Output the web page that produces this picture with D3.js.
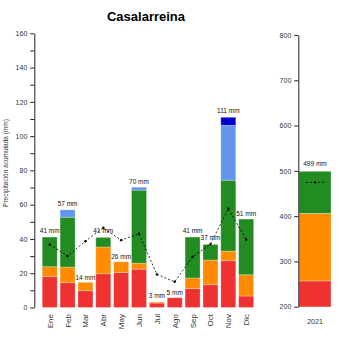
<!DOCTYPE html>
<html lang="es">
<head>
  <meta charset="UTF-8">
  <title>Casalarreina</title>
  <style>
    * { padding: 0; margin: 0; }
    body { background: #fff; }
    text { font-family: "Liberation Sans", Arial, sans-serif; }
    .narrow { font-family: "Liberation Sans Narrow", "Arial Narrow", "Liberation Sans", sans-serif; font-stretch: condensed; }
  </style>
</head>
<body>
  <script src="https://d3js.org/d3.v7.min.js"></script>
  <script>
    const width = 350;
    const height = 350;

    const months = ['Ene', 'Feb', 'Mar', 'Abr', 'May', 'Jun', 'Jul', 'Ago', 'Sep', 'Oct', 'Nov', 'Dic'];
    // stacked monthly values (mm), bottom to top
    const red = [18.0, 14.5, 9.8, 19.7, 20.5, 22.4, 2.6, 5.7, 11.0, 13.3, 27.3, 6.7];
    const orange = [5.8, 9.1, 4.9, 15.6, 6.2, 3.5, 0.6, 0, 6.2, 14.4, 5.6, 12.4];
    const green = [17.3, 29.1, 0, 5.6, 0, 42.6, 0, 0, 23.9, 9.1, 41.4, 32.5];
    const lightBlue = [0, 4.3, 0, 0, 0, 1.7, 0, 0, 0, 0, 32.0, 0];
    const darkBlue = [0, 0, 0, 0, 0, 0, 0, 0, 0, 0, 4.7, 0];
    const totals = [41, 57, 14, 41, 26, 70, 3, 5, 41, 37, 111, 51];
    const mean = [36.8, 30.0, 38.7, 46.5, 39.3, 43.0, 19.3, 15.0, 29.6, 37.0, 57.6, 39.7];

    const year = ['2021'];
    const yearRed = [257];
    const yearOrange = [149];
    const yearGreen = [93];
    const yearTotal = [499];
    const yearMean = [474.6];

    const leftTicks = d3.range(0, 161, 10);
    const rightTicks = [200, 300, 400, 500, 600, 700, 800];

    const series = [red, orange, green, lightBlue, darkBlue];
    const colors = ['#ee3131', '#ff8c00', '#228b22', '#6495ed', '#0000cd'];

    const svg = d3.select('body')
      .append('svg')
      .attr('width', width)
      .attr('height', height);

    svg.append('text')
      .attr('x', 146)
      .attr('y', 21)
      .attr('text-anchor', 'middle')
      .attr('font-size', 13)
      .attr('font-weight', 'bold')
      .text('Casalarreina');

    // monthly chart
    const x = d3.scaleBand()
      .domain(months)
      .range([40.8, 255.1])
      .paddingInner(0.16)
      .paddingOuter(0.08);
    const y = d3.scaleLinear().domain([0, 160]).range([307.5, 33.3]);

    const stackData = months.map((m, i) => {
      const row = { month: m };
      series.forEach((s, k) => { row['s' + k] = s[i]; });
      return row;
    });
    const stack = d3.stack().keys(series.map((s, k) => 's' + k))(stackData);

    svg.append('g')
      .selectAll('g')
      .data(stack)
      .join('g')
      .attr('fill', (d, k) => colors[k])
      .selectAll('rect')
      .data(d => d.filter(v => v[1] - v[0] > 0))
      .join('rect')
      .attr('x', d => x(d.data.month))
      .attr('y', d => y(d[1]))
      .attr('width', x.bandwidth())
      .attr('height', d => y(d[0]) - y(d[1]))
      .attr('stroke', 'rgba(255,255,255,0.35)')
      .attr('stroke-width', 0.8);

    svg.append('g')
      .selectAll('text')
      .data(months)
      .join('text')
      .attr('x', d => x(d) + x.bandwidth() / 2)
      .attr('y', (d, i) => y(totals[i]) - 4)
      .attr('text-anchor', 'middle')
      .attr('font-size', 6.5)
      .attr('fill', '#111')
      .text((d, i) => totals[i] + ' mm');

    const line = d3.line()
      .x((d, i) => x(months[i]) + x.bandwidth() / 2)
      .y(d => y(d));
    svg.append('path')
      .attr('d', line(mean))
      .attr('fill', 'none')
      .attr('stroke', '#000')
      .attr('stroke-width', 0.8)
      .attr('stroke-dasharray', '2,2');
    svg.append('g')
      .selectAll('circle')
      .data(mean)
      .join('circle')
      .attr('cx', (d, i) => x(months[i]) + x.bandwidth() / 2)
      .attr('cy', d => y(d))
      .attr('r', 1.2)
      .attr('fill', '#000');

    const yAxis = svg.append('g')
      .attr('transform', 'translate(34.3,0)')
      .call(d3.axisLeft(y)
        .tickValues(leftTicks)
        .tickSize(4)
        .tickSizeOuter(0)
        .tickFormat(d => d % 20 === 0 ? d : ''));
    yAxis.selectAll('text').attr('font-size', 7).attr('fill', '#333')
      .attr('font-family', null).attr('class', 'narrow');
    yAxis.selectAll('line, path').attr('stroke', '#222');

    svg.append('g')
      .selectAll('text')
      .data(months)
      .join('text')
      .attr('transform', d => `translate(${x(d) + x.bandwidth() / 2 + 3},314) rotate(-90)`)
      .attr('text-anchor', 'end')
      .attr('font-size', 8)
      .attr('fill', '#333')
      .text(d => d);

    svg.append('text')
      .attr('class', 'narrow')
      .attr('transform', 'translate(8,163) rotate(-90)')
      .attr('text-anchor', 'middle')
      .attr('font-size', 6.5)
      .attr('fill', '#333')
      .text('Precipitación acumulada (mm)');

    // annual chart
    const x2 = d3.scaleBand().domain(year).range([299, 331]);
    const y2 = d3.scaleLinear().domain([200, 800]).range([306.7, 35]);

    svg.append('clipPath')
      .attr('id', 'clip2')
      .append('rect')
      .attr('x', 298).attr('y', 35).attr('width', 40).attr('height', 271.7);

    const yearStack = d3.stack().keys(['r', 'o', 'g'])(
      year.map((yy, i) => ({ year: yy, r: yearRed[i], o: yearOrange[i], g: yearGreen[i] })));

    svg.append('g')
      .attr('clip-path', 'url(#clip2)')
      .selectAll('g')
      .data(yearStack)
      .join('g')
      .attr('fill', (d, k) => colors[k])
      .selectAll('rect')
      .data(d => d)
      .join('rect')
      .attr('x', d => x2(d.data.year))
      .attr('y', d => y2(d[1]))
      .attr('width', x2.bandwidth())
      .attr('height', d => y2(d[0]) - y2(d[1]))
      .attr('stroke', 'rgba(255,255,255,0.35)')
      .attr('stroke-width', 0.8);

    svg.append('g')
      .selectAll('text')
      .data(year)
      .join('text')
      .attr('x', d => x2(d) + x2.bandwidth() / 2)
      .attr('y', (d, i) => y2(yearTotal[i]) - 5)
      .attr('text-anchor', 'middle')
      .attr('font-size', 6.5)
      .attr('fill', '#111')
      .text((d, i) => yearTotal[i] + ' mm');

    year.forEach((d, i) => {
      const cx = x2(d) + x2.bandwidth() / 2;
      svg.append('line')
        .attr('x1', cx - 9).attr('x2', cx + 9)
        .attr('y1', y2(yearMean[i])).attr('y2', y2(yearMean[i]))
        .attr('stroke', '#000')
        .attr('stroke-width', 0.8)
        .attr('stroke-dasharray', '2,2');
      svg.append('circle')
        .attr('cx', cx).attr('cy', y2(yearMean[i]))
        .attr('r', 1.2)
        .attr('fill', '#000');
    });

    const yAxis2 = svg.append('g')
      .attr('transform', 'translate(298.3,0)')
      .call(d3.axisLeft(y2)
        .tickValues(rightTicks)
        .tickSize(4)
        .tickSizeOuter(0)
        .tickFormat(d3.format('d')));
    yAxis2.selectAll('text').attr('font-size', 7).attr('fill', '#333')
      .attr('font-family', null).attr('class', 'narrow');
    yAxis2.selectAll('line, path').attr('stroke', '#222');

    svg.append('g')
      .selectAll('text')
      .data(year)
      .join('text')
      .attr('x', d => x2(d) + x2.bandwidth() / 2)
      .attr('y', 324)
      .attr('text-anchor', 'middle')
      .attr('font-size', 7)
      .attr('fill', '#333')
      .text(d => d);
  </script>
</body>
</html>
